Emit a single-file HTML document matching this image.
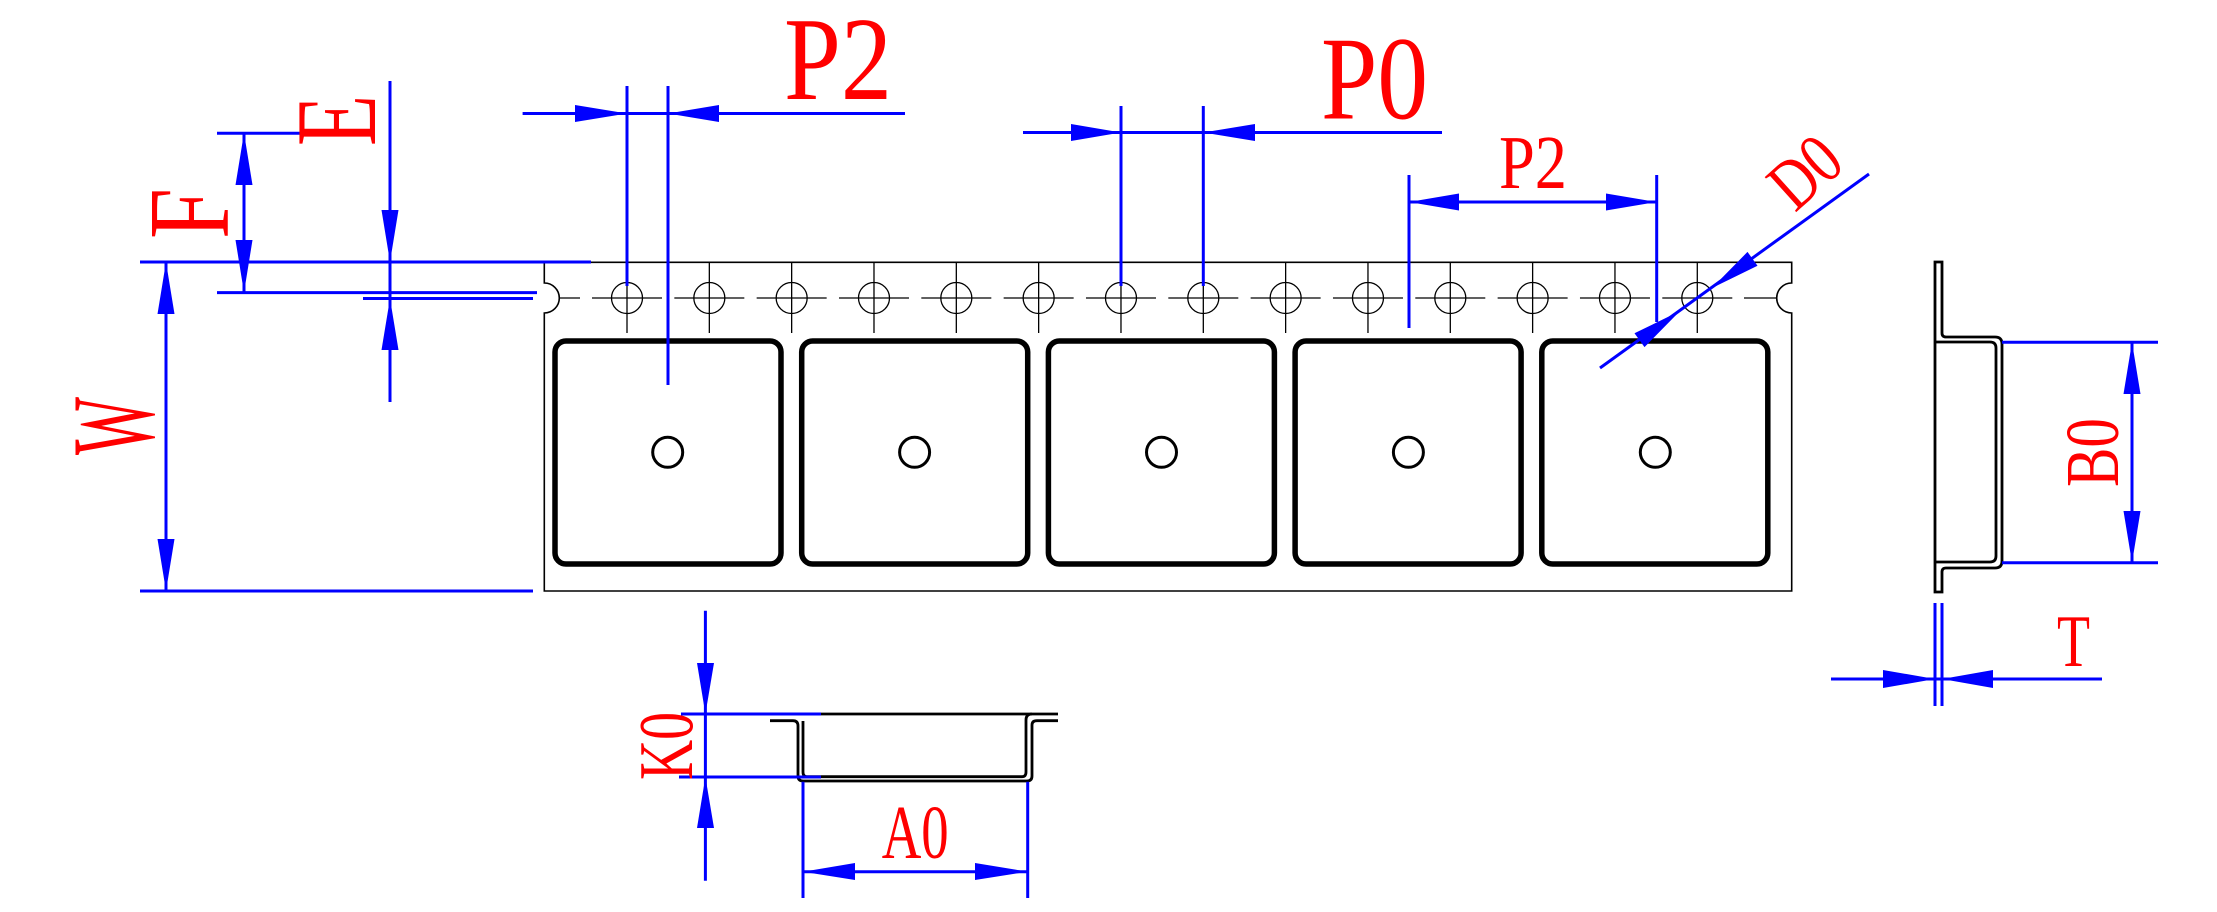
<!DOCTYPE html>
<html><head><meta charset="utf-8"><style>
html,body{margin:0;padding:0;background:#fff;}
svg{display:block;}
text{font-family:"Liberation Serif",serif;fill:#ff0000;}
</style></head><body>
<svg width="2217" height="912" viewBox="0 0 2217 912" xmlns="http://www.w3.org/2000/svg">
<rect width="2217" height="912" fill="#fff"/>
<g fill="none" stroke="#000" stroke-width="1.6">
<path d="M544.3,262.3 H1791.7 V283 A15,15 0 0 0 1791.7,313 V591 H544.3 V313 A15,15 0 0 0 544.3,283 Z"/>
</g>
<g fill="none" stroke="#000" stroke-width="1.3" id="holes">
<line x1="560" y1="298" x2="580" y2="298"/>
<line x1="1744" y1="298" x2="1776" y2="298"/>
</g>
<script>
(function(){var g=document.getElementById('holes');var ns='http://www.w3.org/2000/svg';
for(var k=0;k<14;k++){var x=627+82.33*k;
var c=document.createElementNS(ns,'circle');c.setAttribute('cx',x);c.setAttribute('cy',298);c.setAttribute('r',15.5);g.appendChild(c);
var l=document.createElementNS(ns,'line');l.setAttribute('x1',x);l.setAttribute('x2',x);l.setAttribute('y1',262);l.setAttribute('y2',333);g.appendChild(l);
var h=document.createElementNS(ns,'line');h.setAttribute('x1',x-35);h.setAttribute('x2',x+35);h.setAttribute('y1',298);h.setAttribute('y2',298);g.appendChild(h);}
})();
</script>
<g fill="none" stroke="#000" stroke-width="5.5">
<rect x="555" y="341" width="226" height="223" rx="11"/>
<rect x="801.7" y="341" width="226" height="223" rx="11"/>
<rect x="1048.4" y="341" width="226" height="223" rx="11"/>
<rect x="1295.1" y="341" width="226" height="223" rx="11"/>
<rect x="1541.8" y="341" width="226" height="223" rx="11"/>
</g>
<g fill="none" stroke="#000" stroke-width="3">
<circle cx="667.7" cy="452.3" r="15"/>
<circle cx="914.6" cy="452.3" r="15"/>
<circle cx="1161.5" cy="452.3" r="15"/>
<circle cx="1408.4" cy="452.3" r="15"/>
<circle cx="1655.3" cy="452.3" r="15"/>
</g>
<g fill="none" stroke="#000" stroke-width="2.8">
<path d="M1935,262 V592 H1942 V572 Q1942,568 1946,568 H1995 Q2002,568 2002,561 V344 Q2002,337 1995,337 H1946 Q1942,337 1942,333 V262 Z"/>
<path d="M1935,342 H1990 Q1996,342 1996,348 V556 Q1996,562 1990,562 H1935"/>
</g>
<g fill="none" stroke="#000" stroke-width="2.8">
<path d="M821,714 H1058"/>
<path d="M770,720.7 H793 Q798,720.7 798,726 V776 Q798,781 803,781 H1027 Q1032,781 1032,776 V725 Q1032,720.7 1037,720.7 H1058"/>
<path d="M803,721 V772 Q803,776.7 807,776.7 H1022 Q1026,776.7 1026,772 V720 Q1026,714 1032,714"/>
</g>
<g stroke="#0000ff" stroke-width="3" fill="none">
<line x1="166" y1="262" x2="166" y2="591"/>
<line x1="140" y1="262" x2="591" y2="262"/>
<line x1="140" y1="591" x2="533" y2="591"/>
<line x1="217" y1="133.3" x2="368" y2="133.3"/>
<line x1="244" y1="133" x2="244" y2="292.6"/>
<line x1="217" y1="292.6" x2="537" y2="292.6"/>
<line x1="363" y1="298.5" x2="533" y2="298.5"/>
<line x1="390" y1="81" x2="390" y2="402"/>
<line x1="522.6" y1="113.5" x2="905" y2="113.5"/>
<line x1="627" y1="86" x2="627" y2="286"/>
<line x1="668" y1="86" x2="668" y2="385"/>
<line x1="1023" y1="132.5" x2="1442" y2="132.5"/>
<line x1="1121" y1="106" x2="1121" y2="286"/>
<line x1="1203.3" y1="106" x2="1203.3" y2="286"/>
<line x1="1409" y1="202" x2="1656.7" y2="202"/>
<line x1="1409" y1="175" x2="1409" y2="328"/>
<line x1="1656.7" y1="175" x2="1656.7" y2="322"/>
<line x1="1869" y1="174" x2="1600" y2="368"/>
<line x1="2002" y1="342.3" x2="2158" y2="342.3"/>
<line x1="2002" y1="562.7" x2="2158" y2="562.7"/>
<line x1="2132" y1="342.3" x2="2132" y2="562.7"/>
<line x1="1935" y1="603" x2="1935" y2="706"/>
<line x1="1942" y1="603" x2="1942" y2="706"/>
<line x1="1831" y1="679" x2="2102" y2="679"/>
<line x1="705.4" y1="610.7" x2="705.4" y2="880.7"/>
<line x1="681" y1="714" x2="821" y2="714"/>
<line x1="679" y1="777" x2="821" y2="777"/>
<line x1="803" y1="781.7" x2="803" y2="898"/>
<line x1="1027.7" y1="781.7" x2="1027.7" y2="898"/>
<line x1="803" y1="871.7" x2="1027.7" y2="871.7"/>
</g>
<g fill="#0000ff" stroke="none">
<polygon points="166,262 157.5,314 174.5,314"/>
<polygon points="166,591 157.5,539 174.5,539"/>
<polygon points="244,133 235.5,185 252.5,185"/>
<polygon points="244,292.6 235.5,240 252.5,240"/>
<polygon points="390,262 381.5,210 398.5,210"/>
<polygon points="390,298.5 381.5,350 398.5,350"/>
<polygon points="627,113.5 575,105 575,122"/>
<polygon points="668,113.5 719,105 719,122"/>
<polygon points="1121,132.5 1071,124 1071,141"/>
<polygon points="1203.3,132.5 1255,124 1255,141"/>
<polygon points="1409,202 1459,193.5 1459,210.5"/>
<polygon points="1656.7,202 1606,193.5 1606,210.5"/>
<polygon points="1712,288 1757.5,265.7 1747.5,251.9"/>
<polygon points="1680,311 1644.5,347.1 1634.5,333.3"/>
<polygon points="2132,342.3 2123.5,394 2140.5,394"/>
<polygon points="2132,562.7 2123.5,511 2140.5,511"/>
<polygon points="1935,679 1883,670 1883,688"/>
<polygon points="1942,679 1993,670 1993,688"/>
<polygon points="705.4,714 697,663 714,663"/>
<polygon points="705.4,777 697,828 714,828"/>
<polygon points="803,871.7 855,863 855,880"/>
<polygon points="1027.7,871.7 975,863 975,880"/>
</g>
<text x="784" y="99" font-size="119" textLength="108" lengthAdjust="spacingAndGlyphs">P2</text>
<text x="1321" y="118.6" font-size="119" textLength="107" lengthAdjust="spacingAndGlyphs">P0</text>
<text x="1499" y="188" font-size="76" textLength="68" lengthAdjust="spacingAndGlyphs">P2</text>
<text x="2057" y="666" font-size="74" textLength="33" lengthAdjust="spacingAndGlyphs">T</text>
<text x="881.7" y="858" font-size="76" textLength="67" lengthAdjust="spacingAndGlyphs">A0</text>
<text transform="translate(153,426) rotate(-90)" x="-29" y="0" font-size="119" textLength="58" lengthAdjust="spacingAndGlyphs">W</text>
<text transform="translate(375,120.5) rotate(-90)" x="-25.5" y="0" font-size="116" textLength="51" lengthAdjust="spacingAndGlyphs">E</text>
<text transform="translate(228,213.5) rotate(-90)" x="-25.5" y="0" font-size="116" textLength="51" lengthAdjust="spacingAndGlyphs">F</text>
<text transform="translate(692,746) rotate(-90)" x="-34" y="0" font-size="77" textLength="68" lengthAdjust="spacingAndGlyphs">K0</text>
<text transform="translate(2118,452.5) rotate(-90)" x="-34.5" y="0" font-size="76" textLength="69" lengthAdjust="spacingAndGlyphs">B0</text>
<text transform="translate(1805,172) rotate(-42)" x="-35" y="24" font-size="72" textLength="70" lengthAdjust="spacingAndGlyphs">D0</text>
</svg>
</body></html>
